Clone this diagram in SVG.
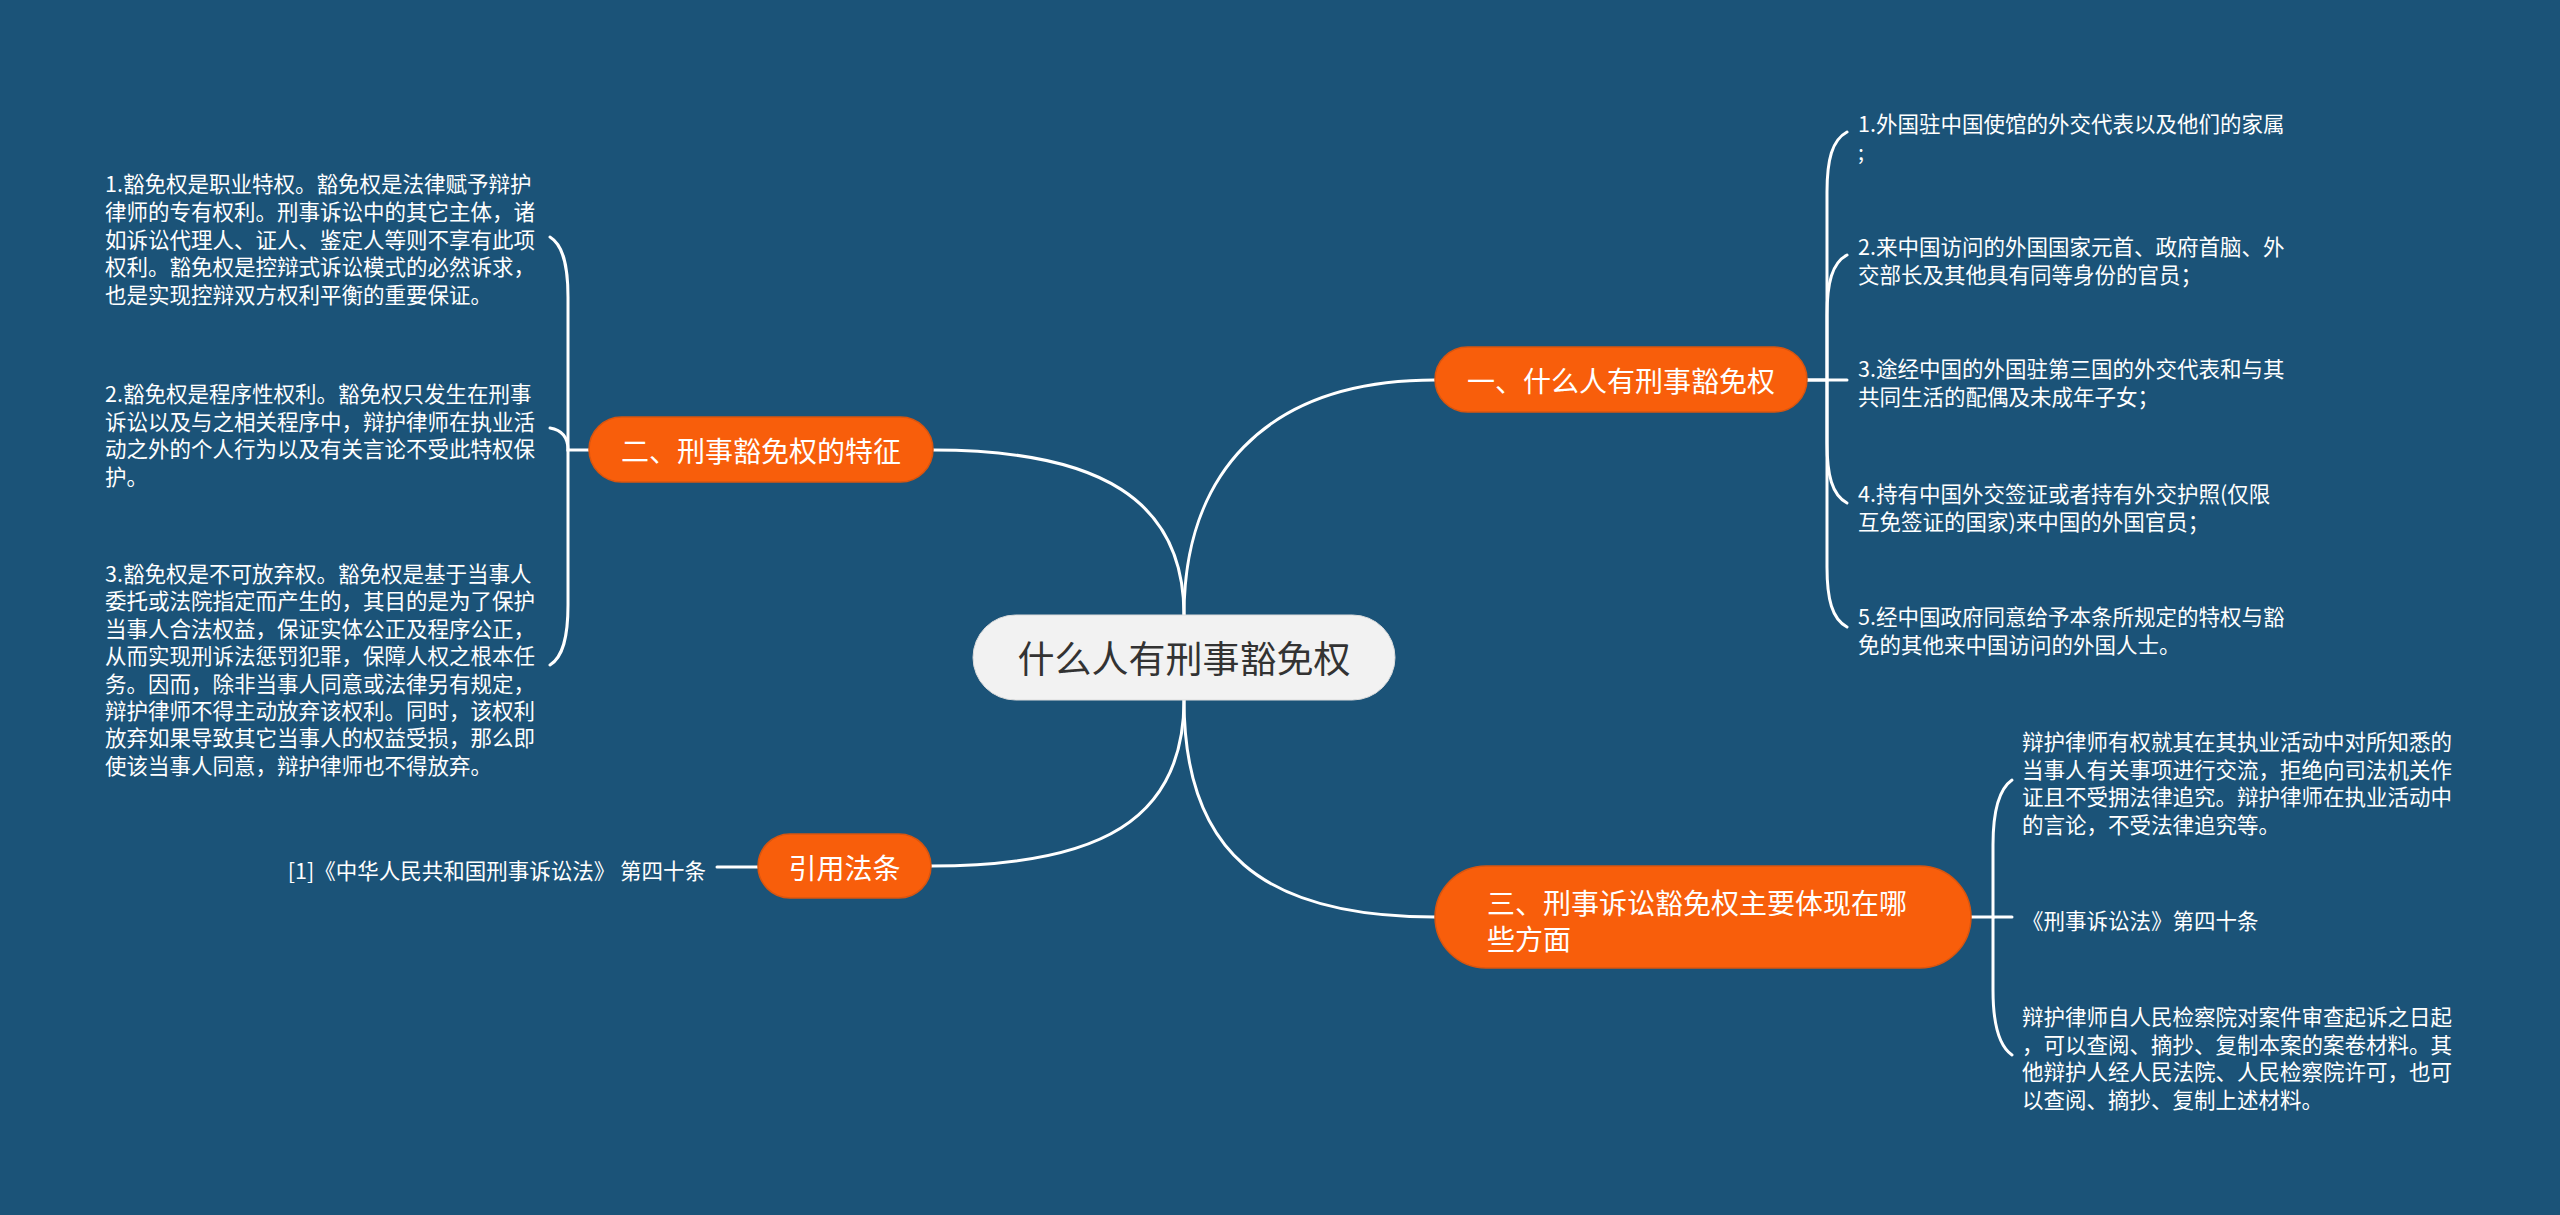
<svg xmlns="http://www.w3.org/2000/svg" width="2560" height="1215" viewBox="0 0 2560 1215">
<style>
.bg{fill:#1b5378}
.ln{fill:none;stroke:#ffffff;stroke-width:3;stroke-linecap:round}
.main{fill:#f85e0b;stroke:#d9550f;stroke-width:1.5}
.root{fill:#f2f2f2;stroke:#dcdcdc;stroke-width:1}
.t{font-family:"Noto Sans CJK SC","Microsoft YaHei",sans-serif;dominant-baseline:central}
.leaf{font-size:21.5px;fill:#ffffff}
.nt{font-size:28px;fill:#ffffff}
.rt{font-size:37px;fill:#333333}
</style>
<rect class="bg" x="0" y="0" width="2560" height="1215"/>

<g id="connectors">
  <!-- root to main branches -->
  <path class="ln" d="M1184 615 C1184 480,1260 380,1435 380"/>
  <path class="ln" d="M1184 615 C1184 500,1100 450,933 450"/>
  <path class="ln" d="M1184 700 C1184 820,1100 866,931 866"/>
  <path class="ln" d="M1184 700 C1184 850,1260 917,1435 917"/>
  <!-- branch 1 leaves -->
  <path class="ln" d="M1807 380 L1827 380 L1827 192 C1827 160,1832 140,1847 132"/>
  <path class="ln" d="M1827 380 L1827 315 C1827 283,1832 263,1847 255"/>
  <path class="ln" d="M1807 380 L1847 380"/>
  <path class="ln" d="M1827 380 L1827 443 C1827 475,1832 495,1847 503"/>
  <path class="ln" d="M1827 380 L1827 567 C1827 599,1832 619,1847 627"/>
  <!-- branch 2 leaves -->
  <path class="ln" d="M589 450 L568 450 L568 297 C568 265,563 245,550 237"/>
  <path class="ln" d="M568 450 C568 438,562 430,550 428"/>
  <path class="ln" d="M568 450 L568 605 C568 637,563 657,550 665"/>
  <!-- branch 3 leaves -->
  <path class="ln" d="M1971 917 L1993 917 L1993 845 C1993 810,1999 789,2012 780"/>
  <path class="ln" d="M1993 917 L2012 917"/>
  <path class="ln" d="M1993 917 L1993 990 C1993 1025,1999 1046,2012 1055"/>
  <!-- citation leaf -->
  <path class="ln" d="M717 867 L758 867"/>
</g>

<g id="root">
  <rect class="root" x="973" y="615" width="422" height="85" rx="42.5"/>
  <text class="t rt" x="1184" y="657" text-anchor="middle">什么人有刑事豁免权</text>
</g>

<g id="branch1">
  <rect class="main" x="1435" y="347" width="372" height="65" rx="32.5"/>
  <text class="t nt" x="1621" y="380" text-anchor="middle">一、什么人有刑事豁免权</text>
</g>
<g id="branch2">
  <rect class="main" x="589" y="417" width="344" height="65" rx="32.5"/>
  <text class="t nt" x="761" y="450" text-anchor="middle">二、刑事豁免权的特征</text>
</g>
<g id="branch3">
  <rect class="main" x="1435" y="866" width="536" height="102" rx="51"/>
  <text class="t nt" x="1487" y="902">三、刑事诉讼豁免权主要体现在哪</text>
  <text class="t nt" x="1487" y="938">些方面</text>
</g>
<g id="branch4">
  <rect class="main" x="758" y="834" width="173" height="64" rx="32"/>
  <text class="t nt" x="844.5" y="867" text-anchor="middle">引用法条</text>
</g>

<g id="b1-leaf1">
  <text class="t leaf" x="1858" y="122">1.外国驻中国使馆的外交代表以及他们的家属<tspan x="1858" dy="27.7">;</tspan></text>
</g>
<g id="b1-leaf2">
  <text class="t leaf" x="1858" y="245">2.来中国访问的外国国家元首、政府首脑、外<tspan x="1858" dy="27.7">交部长及其他具有同等身份的官员；</tspan></text>
</g>
<g id="b1-leaf3">
  <text class="t leaf" x="1858" y="367">3.途经中国的外国驻第三国的外交代表和与其<tspan x="1858" dy="27.7">共同生活的配偶及未成年子女；</tspan></text>
</g>
<g id="b1-leaf4">
  <text class="t leaf" x="1858" y="492">4.持有中国外交签证或者持有外交护照(仅限<tspan x="1858" dy="27.7">互免签证的国家)来中国的外国官员；</tspan></text>
</g>
<g id="b1-leaf5">
  <text class="t leaf" x="1858" y="615">5.经中国政府同意给予本条所规定的特权与豁<tspan x="1858" dy="27.7">免的其他来中国访问的外国人士。</tspan></text>
</g>

<g id="b2-leaf1">
  <text class="t leaf" x="105" y="182">1.豁免权是职业特权。豁免权是法律赋予辩护<tspan x="105" dy="27.8">律师的专有权利。刑事诉讼中的其它主体，诸</tspan><tspan x="105" dy="27.8">如诉讼代理人、证人、鉴定人等则不享有此项</tspan><tspan x="105" dy="27.8">权利。豁免权是控辩式诉讼模式的必然诉求，</tspan><tspan x="105" dy="27.8">也是实现控辩双方权利平衡的重要保证。</tspan></text>
</g>
<g id="b2-leaf2">
  <text class="t leaf" x="105" y="392">2.豁免权是程序性权利。豁免权只发生在刑事<tspan x="105" dy="27.7">诉讼以及与之相关程序中，辩护律师在执业活</tspan><tspan x="105" dy="27.7">动之外的个人行为以及有关言论不受此特权保</tspan><tspan x="105" dy="27.7">护。</tspan></text>
</g>
<g id="b2-leaf3">
  <text class="t leaf" x="105" y="572">3.豁免权是不可放弃权。豁免权是基于当事人<tspan x="105" dy="27.4">委托或法院指定而产生的，其目的是为了保护</tspan><tspan x="105" dy="27.4">当事人合法权益，保证实体公正及程序公正，</tspan><tspan x="105" dy="27.4">从而实现刑诉法惩罚犯罪，保障人权之根本任</tspan><tspan x="105" dy="27.4">务。因而，除非当事人同意或法律另有规定，</tspan><tspan x="105" dy="27.4">辩护律师不得主动放弃该权利。同时，该权利</tspan><tspan x="105" dy="27.4">放弃如果导致其它当事人的权益受损，那么即</tspan><tspan x="105" dy="27.4">使该当事人同意，辩护律师也不得放弃。</tspan></text>
</g>

<g id="b3-leaf1">
  <text class="t leaf" x="2022" y="740">辩护律师有权就其在其执业活动中对所知悉的<tspan x="2022" dy="27.7">当事人有关事项进行交流，拒绝向司法机关作</tspan><tspan x="2022" dy="27.7">证且不受拥法律追究。辩护律师在执业活动中</tspan><tspan x="2022" dy="27.7">的言论，不受法律追究等。</tspan></text>
</g>
<g id="b3-leaf2">
  <text class="t leaf" x="2022" y="919">《刑事诉讼法》第四十条</text>
</g>
<g id="b3-leaf3">
  <text class="t leaf" x="2022" y="1015">辩护律师自人民检察院对案件审查起诉之日起<tspan x="2022" dy="27.5">，可以查阅、摘抄、复制本案的案卷材料。其</tspan><tspan x="2022" dy="27.5">他辩护人经人民法院、人民检察院许可，也可</tspan><tspan x="2022" dy="27.5">以查阅、摘抄、复制上述材料。</tspan></text>
</g>

<g id="b4-leaf1">
  <text class="t leaf" x="706" y="869" text-anchor="end">[1]《中华人民共和国刑事诉讼法》 第四十条</text>
</g>
</svg>
